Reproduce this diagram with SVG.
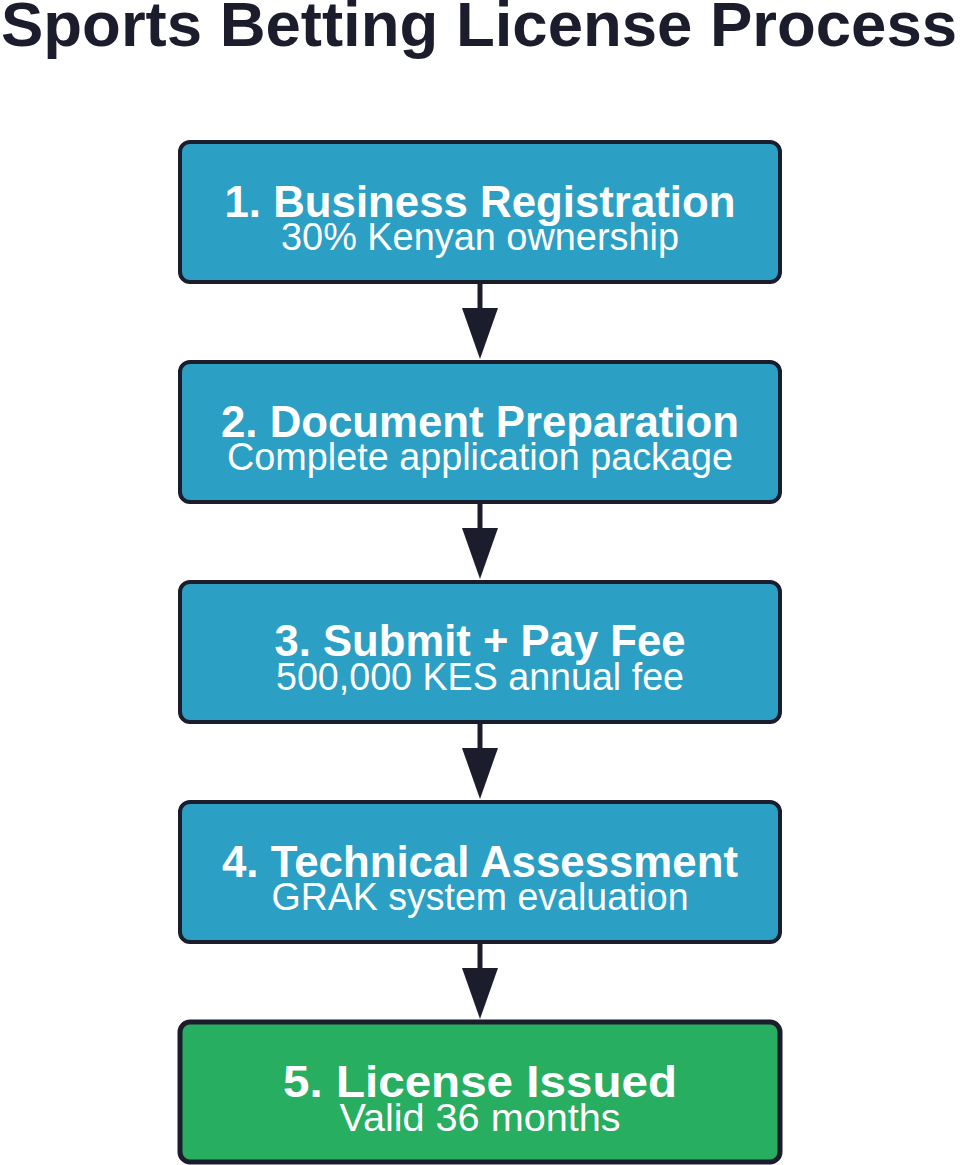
<svg xmlns="http://www.w3.org/2000/svg" width="960" height="1165" viewBox="0 0 960 1165">
  <style>
    .box { fill: #2b9fc4; stroke: #1b1c2c; stroke-width: 4; }
    .final { fill: #27ae60; stroke: #1b1c2c; stroke-width: 5; }
    .t { font-family: "Liberation Sans", Arial, sans-serif; font-weight: bold; font-size: 44px; fill: #ffffff; text-anchor: middle; }
    .s { font-family: "Liberation Sans", Arial, sans-serif; font-size: 38px; fill: #ffffff; text-anchor: middle; }
    .title { font-family: "Liberation Sans", Arial, sans-serif; font-weight: bold; font-size: 63px; fill: #1b1c2c; text-anchor: middle; }
    .conn line { stroke: #1b1c2c; stroke-width: 5; }
    .conn polygon { fill: #1b1c2c; }
  </style>
  <rect width="960" height="1165" fill="#ffffff"/>
  <text class="title" x="479" y="46" textLength="956" lengthAdjust="spacingAndGlyphs">Sports Betting License Process</text>

  <g id="connectors" class="conn">
    <line x1="480" y1="284" x2="480" y2="312"/>
    <polygon points="462,308 498,308 480,359"/>
    <line x1="480" y1="504" x2="480" y2="532"/>
    <polygon points="462,528 498,528 480,579"/>
    <line x1="480" y1="724" x2="480" y2="752"/>
    <polygon points="462,748 498,748 480,799"/>
    <line x1="480" y1="944" x2="480" y2="972"/>
    <polygon points="462,968 498,968 480,1019"/>
  </g>

  <g id="node1">
    <rect class="box" x="180" y="142" width="600" height="140" rx="10"/>
    <text class="t" x="480" y="217" textLength="511" lengthAdjust="spacingAndGlyphs">1. Business Registration</text>
    <text class="s" x="480" y="250" textLength="398" lengthAdjust="spacingAndGlyphs">30% Kenyan ownership</text>
  </g>
  <g id="node2">
    <rect class="box" x="180" y="362" width="600" height="140" rx="10"/>
    <text class="t" x="480" y="437" textLength="518" lengthAdjust="spacingAndGlyphs">2. Document Preparation</text>
    <text class="s" x="480" y="470" textLength="506" lengthAdjust="spacingAndGlyphs">Complete application package</text>
  </g>
  <g id="node3">
    <rect class="box" x="180" y="582" width="600" height="140" rx="10"/>
    <text class="t" x="480" y="656" textLength="411" lengthAdjust="spacingAndGlyphs">3. Submit + Pay Fee</text>
    <text class="s" x="480" y="690" textLength="408" lengthAdjust="spacingAndGlyphs">500,000 KES annual fee</text>
  </g>
  <g id="node4">
    <rect class="box" x="180" y="802" width="600" height="140" rx="10"/>
    <text class="t" x="480" y="877" textLength="516" lengthAdjust="spacingAndGlyphs">4. Technical Assessment</text>
    <text class="s" x="480" y="910" textLength="417" lengthAdjust="spacingAndGlyphs">GRAK system evaluation</text>
  </g>
  <g id="node5">
    <rect class="final" x="180" y="1022" width="600" height="140" rx="10"/>
    <text class="t" x="480" y="1097" textLength="394" lengthAdjust="spacingAndGlyphs">5. License Issued</text>
    <text class="s" x="480" y="1131" textLength="281" lengthAdjust="spacingAndGlyphs">Valid 36 months</text>
  </g>
</svg>
